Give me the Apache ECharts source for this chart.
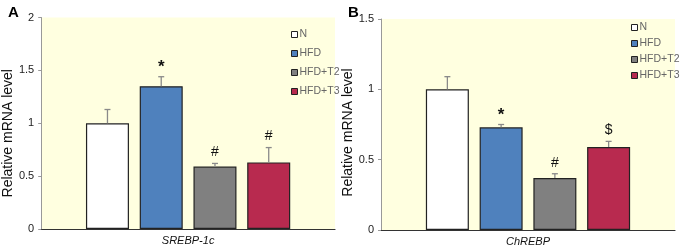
<!DOCTYPE html>
<html>
<head>
<meta charset="utf-8">
<script src="https://cdn.jsdelivr.net/npm/echarts@6/dist/echarts.min.js"></script>
<style>
  html, body { margin: 0; padding: 0; background: #fff; }
  #main { width: 680px; height: 252px; }
</style>
</head>
<body>
<div id="main"></div>
<script>
var groups = ['N', 'HFD', 'HFD+T2', 'HFD+T3'];
var colors = ['#ffffff', '#4f81bd', '#808080', '#b82a4f'];

// panel A: SREBP-1c
var srebpMean = [1.0, 1.35, 0.59, 0.63];
var srebpErr = [0.13, 0.09, 0.03, 0.14];
var srebpMarks = ['', '*', '#', '#'];

// panel B: ChREBP
var chrebpMean = [1.0, 0.73, 0.37, 0.59];
var chrebpErr = [0.09, 0.02, 0.03, 0.04];
var chrebpMarks = ['', '*', '#', '$'];

var chartDom = document.getElementById('main');
var myChart = echarts.init(chartDom);
var option;

var FONT = 'Liberation Sans';
var BAR_W = 43;
var BAR_GAP = 0.25;

function barSeries(gridIdx, means) {
  return groups.map(function (name, i) {
    return {
      type: 'bar',
      name: name,
      xAxisIndex: gridIdx,
      yAxisIndex: gridIdx,
      barWidth: BAR_W,
      barGap: (BAR_GAP * 100) + '%',
      itemStyle: { color: colors[i], borderColor: '#222', borderWidth: 1.2 },
      data: [means[i]],
      z: 2
    };
  });
}

function errorSeries(gridIdx, means, errs, marks) {
  return {
    type: 'custom',
    xAxisIndex: gridIdx,
    yAxisIndex: gridIdx,
    silent: true,
    z: 3,
    data: means.map(function (m, i) { return [0, m, errs[i], i]; }),
    renderItem: function (params, api) {
      var i = api.value(3);
      var m = api.value(1);
      var e = api.value(2);
      var step = BAR_W * (1 + BAR_GAP);
      var base = api.coord([0, m]);
      var top = api.coord([0, m + e]);
      var x = base[0] + (i - 1.5) * step;
      var children = [
        { type: 'line', shape: { x1: x, y1: base[1], x2: x, y2: top[1] },
          style: { stroke: '#8a8a8a', lineWidth: 1.3 } },
        { type: 'line', shape: { x1: x - 3, y1: top[1], x2: x + 3, y2: top[1] },
          style: { stroke: '#8a8a8a', lineWidth: 1.3 } }
      ];
      if (marks[i]) {
        var star = marks[i] === '*';
        children.push({
          type: 'text',
          style: {
            x: x, y: top[1] - (star ? 1 : 4), text: marks[i],
            fill: '#111', font: (star ? 'bold 17px ' : '14px ') + FONT,
            textAlign: 'center', textVerticalAlign: 'bottom'
          }
        });
      }
      return { type: 'group', children: children };
    }
  };
}

function xAxis(gridIdx, name) {
  return {
    type: 'category',
    gridIndex: gridIdx,
    data: [name],
    name: name,
    nameLocation: 'middle',
    nameGap: 6,
    nameTextStyle: { fontFamily: FONT, fontStyle: 'italic', fontSize: 11, color: '#111' },
    axisLine: { lineStyle: { color: '#333', width: 1.2 } },
    axisTick: { show: false },
    axisLabel: { show: false }
  };
}

function yAxis(gridIdx, max, shift) {
  return {
    type: 'value',
    gridIndex: gridIdx,
    min: 0,
    max: max,
    interval: 0.5,
    name: 'Relative mRNA level',
    nameLocation: 'middle',
    nameGap: 26,
    nameTextStyle: { fontFamily: FONT, fontSize: 14, color: '#111', padding: [0, shift, 0, 0] },
    axisLine: { show: true, lineStyle: { color: '#999', width: 1 } },
    axisTick: { show: true, length: 3, lineStyle: { color: '#999' } },
    axisLabel: { fontFamily: FONT, fontSize: 11, color: '#222', margin: 7 },
    splitLine: { show: false }
  };
}

function legend(left, top, gap) {
  return {
    orient: 'vertical',
    left: left,
    top: top,
    itemWidth: 6,
    itemHeight: 6,
    itemGap: gap,
    icon: 'rect',
    selectedMode: false,
    data: groups,
    textStyle: { fontFamily: FONT, fontSize: 10.5, color: '#666', padding: [0, 0, 0, -3] },
    itemStyle: { borderColor: '#222', borderWidth: 1 }
  };
}

option = {
  animation: false,
  title: [
    { text: 'A', left: 3, top: 0, textStyle: { fontFamily: FONT, fontWeight: 'bold', fontSize: 15, color: '#000' } },
    { text: 'B', left: 343, top: 0, textStyle: { fontFamily: FONT, fontWeight: 'bold', fontSize: 15, color: '#000' } }
  ],
  grid: [
    { left: 41, top: 17.5, width: 294, height: 211.5, show: true, backgroundColor: '#ffffe0', borderWidth: 0 },
    { left: 381, top: 19, width: 294, height: 213, show: true, backgroundColor: '#ffffe0', borderWidth: 0 }
  ],
  legend: [legend(286, 24, 8), legend(626, 17, 5)],
  xAxis: [xAxis(0, 'SREBP-1c'), xAxis(1, 'ChREBP')],
  yAxis: [yAxis(0, 2, 20), yAxis(1, 1.5, 16)],
  series: []
    .concat(barSeries(0, srebpMean))
    .concat(barSeries(1, chrebpMean))
    .concat([
      errorSeries(0, srebpMean, srebpErr, srebpMarks),
      errorSeries(1, chrebpMean, chrebpErr, chrebpMarks)
    ])
};

option && myChart.setOption(option);
</script>
</body>
</html>
